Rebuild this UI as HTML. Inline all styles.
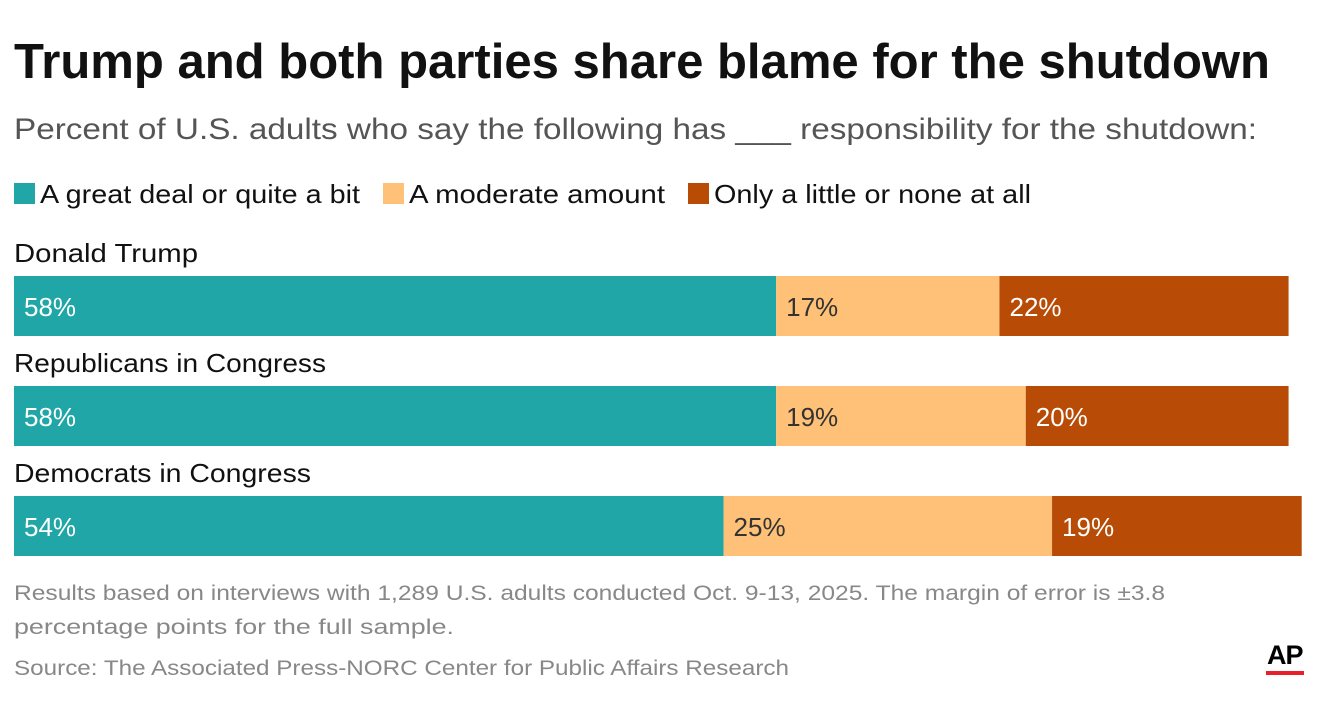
<!DOCTYPE html>
<html><head><meta charset="utf-8"><style>
body{margin:0;background:#fff;font-family:"Liberation Sans",sans-serif}
svg text{font-family:"Liberation Sans",sans-serif}
</style></head><body>
<svg width="1322" height="718" viewBox="0 0 1322 718" xmlns="http://www.w3.org/2000/svg">
<text x="14" y="78" font-size="49" font-weight="bold" fill="#111" textLength="1256" lengthAdjust="spacingAndGlyphs">Trump and both parties share blame for the shutdown</text>
<text x="14" y="139" font-size="30" fill="#555" textLength="1243" lengthAdjust="spacingAndGlyphs">Percent of U.S. adults who say the following has ___ responsibility for the shutdown:</text>
<g id="legend"></g>
<g id="bars"></g>
<text x="14" y="600" font-size="21" fill="#888" textLength="1151" lengthAdjust="spacingAndGlyphs">Results based on interviews with 1,289 U.S. adults conducted Oct. 9-13, 2025. The margin of error is ±3.8</text>
<text x="14" y="634" font-size="21" fill="#888" textLength="440" lengthAdjust="spacingAndGlyphs">percentage points for the full sample.</text>
<text x="14" y="675" font-size="21" fill="#888" textLength="775" lengthAdjust="spacingAndGlyphs">Source: The Associated Press-NORC Center for Public Affairs Research</text>
<text x="1267" y="664" font-size="27" font-weight="bold" fill="#000" letter-spacing="-1">AP</text>
<rect x="1266" y="671" width="38" height="4" fill="#e8202a"/>
</svg>
<script>
const categories=["Donald Trump","Republicans in Congress","Democrats in Congress"];
const seriesNames=["A great deal or quite a bit","A moderate amount","Only a little or none at all"];
const greatDeal=[58,58,54];
const moderate=[17,19,25];
const little=[22,20,19];
const colors=["#20a6a6","#fec177","#b84c06"];
const textColors=["#fff","#333","#fff"];
const NS="http://www.w3.org/2000/svg";
const x0=14, pxPer=13.14;
const xs=v=>v*pxPer;
function mk(tag,attrs,parent){const e=document.createElementNS(NS,tag);for(const k in attrs)e.setAttribute(k,attrs[k]);parent.appendChild(e);return e;}
const legend=document.getElementById('legend');
const legX=[14,383,688];
const legW=[320,256,317];
seriesNames.forEach((n,i)=>{
  const r=mk('rect',{x:legX[i],y:183,width:21,height:21,fill:colors[i]},legend);
  
  
  const t=mk('text',{x:legX[i]+26,y:203,'font-size':26,fill:'#111',textLength:legW[i],lengthAdjust:'spacingAndGlyphs'},legend);
  
  
  t.textContent=n;
});
const bars=document.getElementById('bars');
const series=[greatDeal,moderate,little];
const catW=[184,312,297];
categories.forEach((c,i)=>{
  const top=276+i*110;
  const lab=mk('text',{x:14,y:top-14,'font-size':26,fill:'#111',textLength:catW[i],lengthAdjust:'spacingAndGlyphs'},bars);
  
  
  lab.textContent=c;
  let acc=0;
  series.forEach((s,j)=>{
    const v=s[i];
    const r=mk('rect',{x:x0+xs(acc),y:top,width:xs(v),height:60,fill:colors[j]},bars);
    
    
    const t=mk('text',{x:x0+xs(acc)+10,y:top+40,'font-size':26,fill:textColors[j]},bars);
    
    
    t.textContent=v+'%';
    acc+=v;
  });
});
</script>
</body></html>
